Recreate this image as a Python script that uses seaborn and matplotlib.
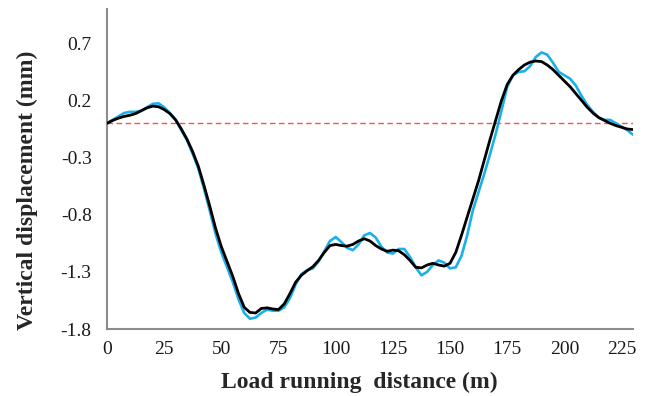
import numpy as np
import pandas as pd
import matplotlib
matplotlib.use("Agg")
import matplotlib.pyplot as plt
import seaborn as sns

# ---- data ----
distance = [0, 2.5, 5, 7.5, 10, 12.5, 15, 17.5, 20, 22.5, 25, 27.5, 30, 32.5, 35, 37.5,
            40, 42.5, 45, 47.5, 50, 52.5, 55, 57.5, 60, 62.5, 65, 67.5, 70, 72.5, 75,
            77.5, 80, 82.5, 85, 87.5, 90, 92.5, 95, 97.5, 100, 102.5, 105, 107.5, 110,
            112.5, 115, 117.5, 120, 122.5, 125, 127.5, 130, 132.5, 135, 137.5, 140,
            142.5, 145, 147.5, 150, 152.5, 155, 157.5, 160, 162.5, 165, 167.5, 170,
            172.5, 175, 177.5, 180, 182.5, 185, 187.5, 190, 192.5, 195, 197.5, 200,
            202.5, 205, 207.5, 210, 212.5, 215, 217.5, 220, 222.5, 225, 227.5, 230]

black_series = [0.0, 0.025, 0.045, 0.06, 0.07, 0.085, 0.11, 0.135, 0.15, 0.145, 0.12, 0.085,
                0.03, -0.05, -0.14, -0.25, -0.38, -0.55, -0.73, -0.92, -1.08, -1.21, -1.34,
                -1.49, -1.61, -1.655, -1.66, -1.62, -1.615, -1.625, -1.63, -1.58, -1.49,
                -1.39, -1.33, -1.29, -1.255, -1.2, -1.13, -1.07, -1.06, -1.07, -1.075,
                -1.06, -1.03, -1.01, -1.03, -1.07, -1.1, -1.12, -1.11, -1.115, -1.15, -1.2,
                -1.26, -1.265, -1.24, -1.225, -1.24, -1.25, -1.225, -1.13, -0.98, -0.82,
                -0.66, -0.5, -0.32, -0.14, 0.03, 0.2, 0.34, 0.42, 0.47, 0.51, 0.535, 0.545,
                0.54, 0.51, 0.47, 0.42, 0.37, 0.32, 0.26, 0.2, 0.14, 0.09, 0.05, 0.025, 0.0,
                -0.02, -0.035, -0.05, -0.055]

blue_series = [0.0, 0.03, 0.06, 0.09, 0.1, 0.1, 0.11, 0.14, 0.17, 0.175, 0.14, 0.09, 0.03,
               -0.06, -0.15, -0.27, -0.4, -0.58, -0.77, -0.97, -1.13, -1.26, -1.39, -1.54,
               -1.66, -1.71, -1.7, -1.66, -1.63, -1.64, -1.64, -1.61, -1.53, -1.41, -1.32,
               -1.285, -1.27, -1.21, -1.12, -1.03, -0.995, -1.04, -1.09, -1.11, -1.06,
               -0.98, -0.96, -1.0, -1.08, -1.13, -1.14, -1.1, -1.1, -1.17, -1.26, -1.33,
               -1.3, -1.24, -1.2, -1.22, -1.27, -1.26, -1.16, -0.98, -0.76, -0.6, -0.44,
               -0.27, -0.09, 0.11, 0.32, 0.42, 0.45, 0.455, 0.5, 0.58, 0.62, 0.6, 0.53,
               0.45, 0.42, 0.39, 0.33, 0.24, 0.16, 0.1, 0.05, 0.03, 0.03, 0.0, -0.03,
               -0.06, -0.1]

x_ticks = [0, 25, 50, 75, 100, 125, 150, 175, 200, 225]
y_ticks = [-1.8, -1.3, -0.8, -0.3, 0.2, 0.7]
y_tick_labels = ["-1.8", "-1.3", "-0.8", "-0.3", "0.2", "0.7"]
zero_level = 0.0

x_label = "Load running  distance (m)"
y_label = "Vertical displacement (mm)"

# ---- plotting ----
sns.set_style("white")
plt.rcParams["font.family"] = ["Liberation Serif", "DejaVu Serif"]
plt.rcParams["axes.unicode_minus"] = False

fig = plt.figure(figsize=(6.51, 3.96), dpi=100)
ax = fig.add_axes([107 / 651, (396 - 329) / 396, 526 / 651, 320 / 396])

ax.axhline(zero_level, color="#FF4F4F", linestyle=(0, (4, 2.5)), linewidth=1.0, zorder=1)

df_blue = pd.DataFrame({"d": distance, "v": blue_series})
df_black = pd.DataFrame({"d": distance, "v": black_series})
sns.lineplot(data=df_blue, x="d", y="v", ax=ax, color="#1AB0EA", linewidth=1.9,
             sort=False, estimator=None, zorder=2)
sns.lineplot(data=df_black, x="d", y="v", ax=ax, color="black", linewidth=2.0,
             sort=False, estimator=None, zorder=3)

ax.set_xlim(0, 230)
ax.set_ylim(-1.8, 1.0)
ax.set_xticks(x_ticks)
ax.set_yticks(y_ticks)
ax.set_yticklabels(y_tick_labels)

for side in ("top", "right"):
    ax.spines[side].set_visible(False)
for side in ("left", "bottom"):
    ax.spines[side].set_color("#8C8C8C")
    ax.spines[side].set_linewidth(1.5)

ax.tick_params(axis="both", direction="in", length=5, width=1.2, color="#8C8C8C",
               labelsize=14, labelcolor="#1A1A1A")
ax.tick_params(axis="x", pad=9)
ax.tick_params(axis="y", pad=11)

ax.set_xlabel(x_label, fontsize=17, fontweight="bold")
ax.set_ylabel(y_label, fontsize=17, fontweight="bold")
ax.xaxis.set_label_coords(0.48, -0.166)
ax.xaxis.label.set_va("center")
ax.yaxis.set_label_coords(-0.152, 0.434)
ax.yaxis.label.set_va("center")
ax.yaxis.label.set_ha("center")

fig.savefig("out.png", dpi=100)
